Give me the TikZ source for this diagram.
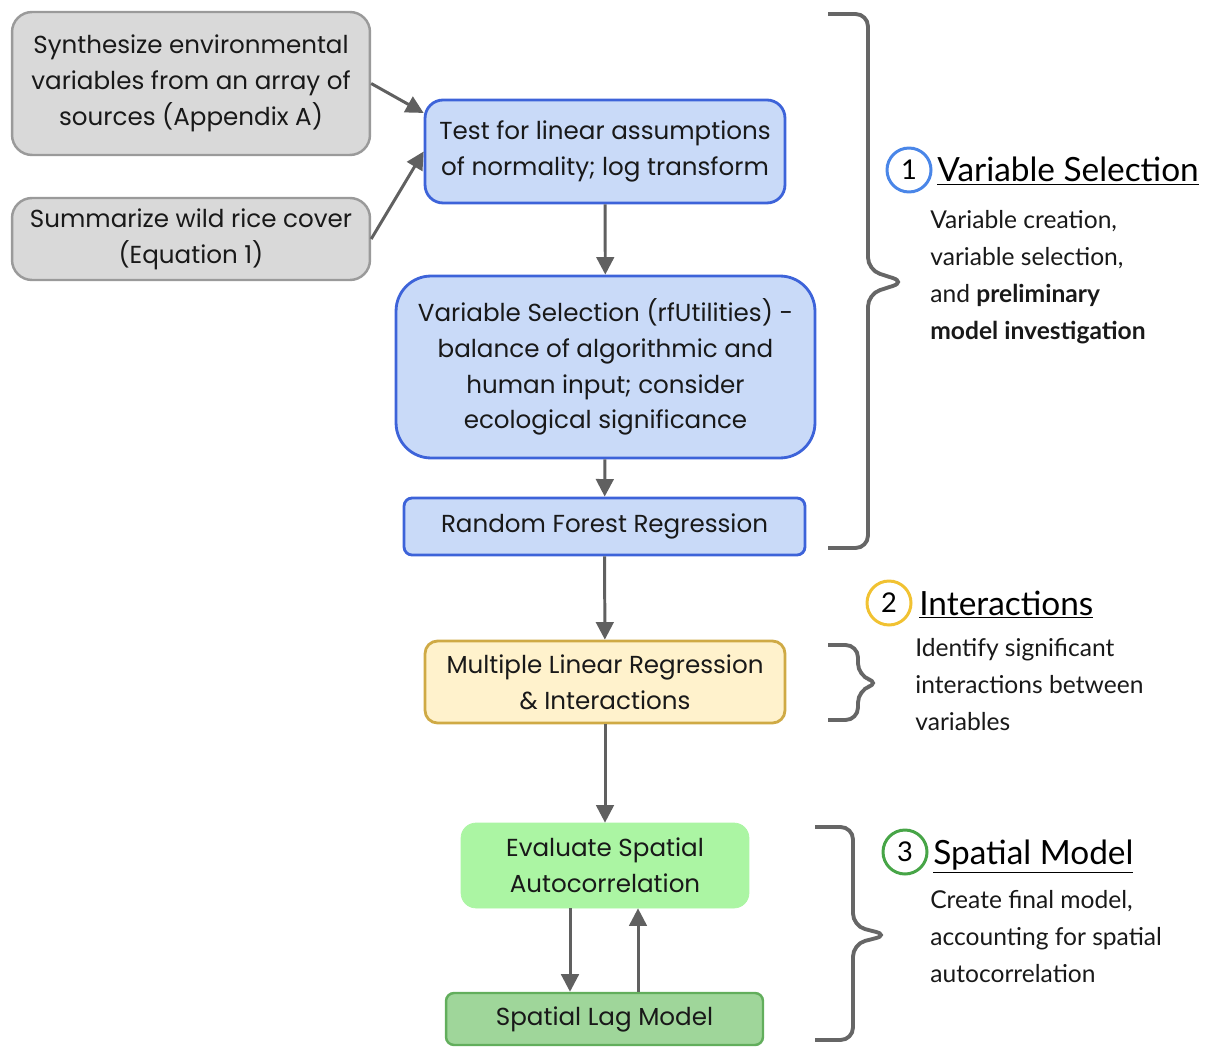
\documentclass[tikz,border=0pt]{standalone}
\usepackage{fontspec}
\setmainfont{Lato}
\newfontfamily\boxfont{Poppins}
\usetikzlibrary{arrows.meta}

\definecolor{grayfill}{HTML}{D9D9D9}
\definecolor{grayline}{HTML}{9A9A9A}
\definecolor{bluefill}{HTML}{C9DAF8}
\definecolor{blueline}{HTML}{3D63D9}
\definecolor{yellowfill}{HTML}{FFF2CC}
\definecolor{yellowline}{HTML}{CFAA45}
\definecolor{greenfill}{HTML}{ABF5A3}
\definecolor{lagfill}{HTML}{9FD69A}
\definecolor{lagline}{HTML}{62AE5C}
\definecolor{arrowgray}{HTML}{606060}
\definecolor{ringblue}{HTML}{4A86E8}
\definecolor{ringyellow}{HTML}{F1C232}
\definecolor{ringgreen}{HTML}{47A547}

\tikzset{
  stepnode/.style={draw, align=center, text=black!90, inner sep=0pt,
    font=\boxfont\fontsize{14}{20.4}\selectfont},
  graybox/.style={stepnode, fill=grayfill, draw=grayline, line width=1.4pt, rounded corners=0.4cm},
  bluebox/.style={stepnode, fill=bluefill, draw=blueline, line width=1.6pt},
  yellowbox/.style={stepnode, fill=yellowfill, draw=yellowline, line width=1.6pt, rounded corners=0.25cm},
  flow/.style={draw=arrowgray, line width=1.7pt, -{Triangle[length=10pt,width=10pt]}},
  brace/.style={draw=black!60, line width=2.2pt, rounded corners=0.25cm},
  ring/.style={circle, draw, line width=1.7pt, minimum size=0.88cm, inner sep=0pt,
    font=\fontsize{15.5}{15.5}\selectfont},
  title/.style={anchor=base west, inner sep=0pt, font=\fontsize{19}{22}\selectfont},
  note/.style={anchor=north west, inner sep=0pt, align=left, text=black!90,
    font=\fontsize{14}{21}\selectfont}
}

\begin{document}
\begin{tikzpicture}[x=0.02cm,y=-0.02cm]
  %%%%% START %%%%%
  \useasboundingbox (0,0) rectangle (1206,1047);

  % inputs
  \node[graybox, minimum width=7.16cm, minimum height=2.86cm] (synth) at (191,83.5)
    {Synthesize environmental\\variables from an array of\\sources (Appendix A)};
  \node[graybox, minimum width=7.16cm, minimum height=1.64cm] (summ) at (191,239)
    {Summarize wild rice cover\\(Equation 1)};

  % stage 1
  \node[bluebox, rounded corners=0.36cm, minimum width=7.2cm, minimum height=2.06cm] (test) at (605,151.5)
    {Test for linear assumptions\\of normality; log transform};
  \node[bluebox, rounded corners=0.7cm, minimum width=8.38cm, minimum height=3.64cm] (varsel) at (605.5,367)
    {Variable Selection (rfUtilities) -\\balance of algorithmic and\\human input; consider\\ecological significance};
  \node[bluebox, rounded corners=0.16cm, minimum width=8.02cm, minimum height=1.14cm] (rf) at (604.5,526.5)
    {Random Forest Regression};

  % stage 2
  \node[yellowbox, minimum width=7.2cm, minimum height=1.64cm] (mlr) at (605,682)
    {Multiple Linear Regression\\\& Interactions};

  % stage 3
  \node[stepnode, fill=greenfill, draw=greenfill, rounded corners=0.3cm, minimum width=5.76cm, minimum height=1.7cm] (eval) at (605,865.5)
    {Evaluate Spatial\\Autocorrelation};
  \node[stepnode, fill=lagfill, draw=lagline, line width=1.4pt, rounded corners=0.16cm, minimum width=6.34cm, minimum height=1.04cm] (lag) at (604.5,1019)
    {Spatial Lag Model};

  % arrows
  \draw[flow] (synth.east) -- (test.168);
  \draw[flow] (summ.east) -- (test.west);
  \draw[flow] (test) -- (varsel);
  \draw[flow] (varsel) -- (rf);
  \draw[flow] (rf) -- (mlr);
  \draw[flow] (mlr) -- (eval);
  \draw[flow] (eval.south -| 570,0) -- (lag.north -| 570,0);
  \draw[flow] (lag.north -| 638,0) -- (eval.south -| 638,0);

  % braces
  \draw[brace] (828,14) -- (868,14) -- (868,270) -- (905,282) -- (868,294) -- (868,548) -- (828,548);
  \draw[brace] (828,645) -- (858,645) -- (858,676) -- (880,683) -- (858,690) -- (858,720) -- (828,720);
  \draw[brace] (815,827) -- (853,827) -- (853,926) -- (888,935) -- (853,944) -- (853,1040) -- (815,1040);

  % stage labels
  \node[ring, draw=ringblue] (ring1) at (909,170) {1};
  \node[title] (head1) at (937,182) {\underline{Variable Selection}};
  \node[note] (note1) at (930,210) {Variable creation,\\variable selection,\\and \textbf{preliminary}\\\textbf{model investigation}};

  \node[ring, draw=ringyellow] (ring2) at (889,603) {2};
  \node[title] (head2) at (919,615) {\underline{Interactions}};
  \node[note] (note2) at (915,638) {Identify significant\\interactions between\\variables};

  \node[ring, draw=ringgreen] (ring3) at (905,852) {3};
  \node[title] (head3) at (933,864) {\underline{Spatial Model}};
  \node[note] (note3) at (930,890) {Create final model,\\accounting for spatial\\autocorrelation};

  %%%%% END %%%%%
\end{tikzpicture}
\end{document}
